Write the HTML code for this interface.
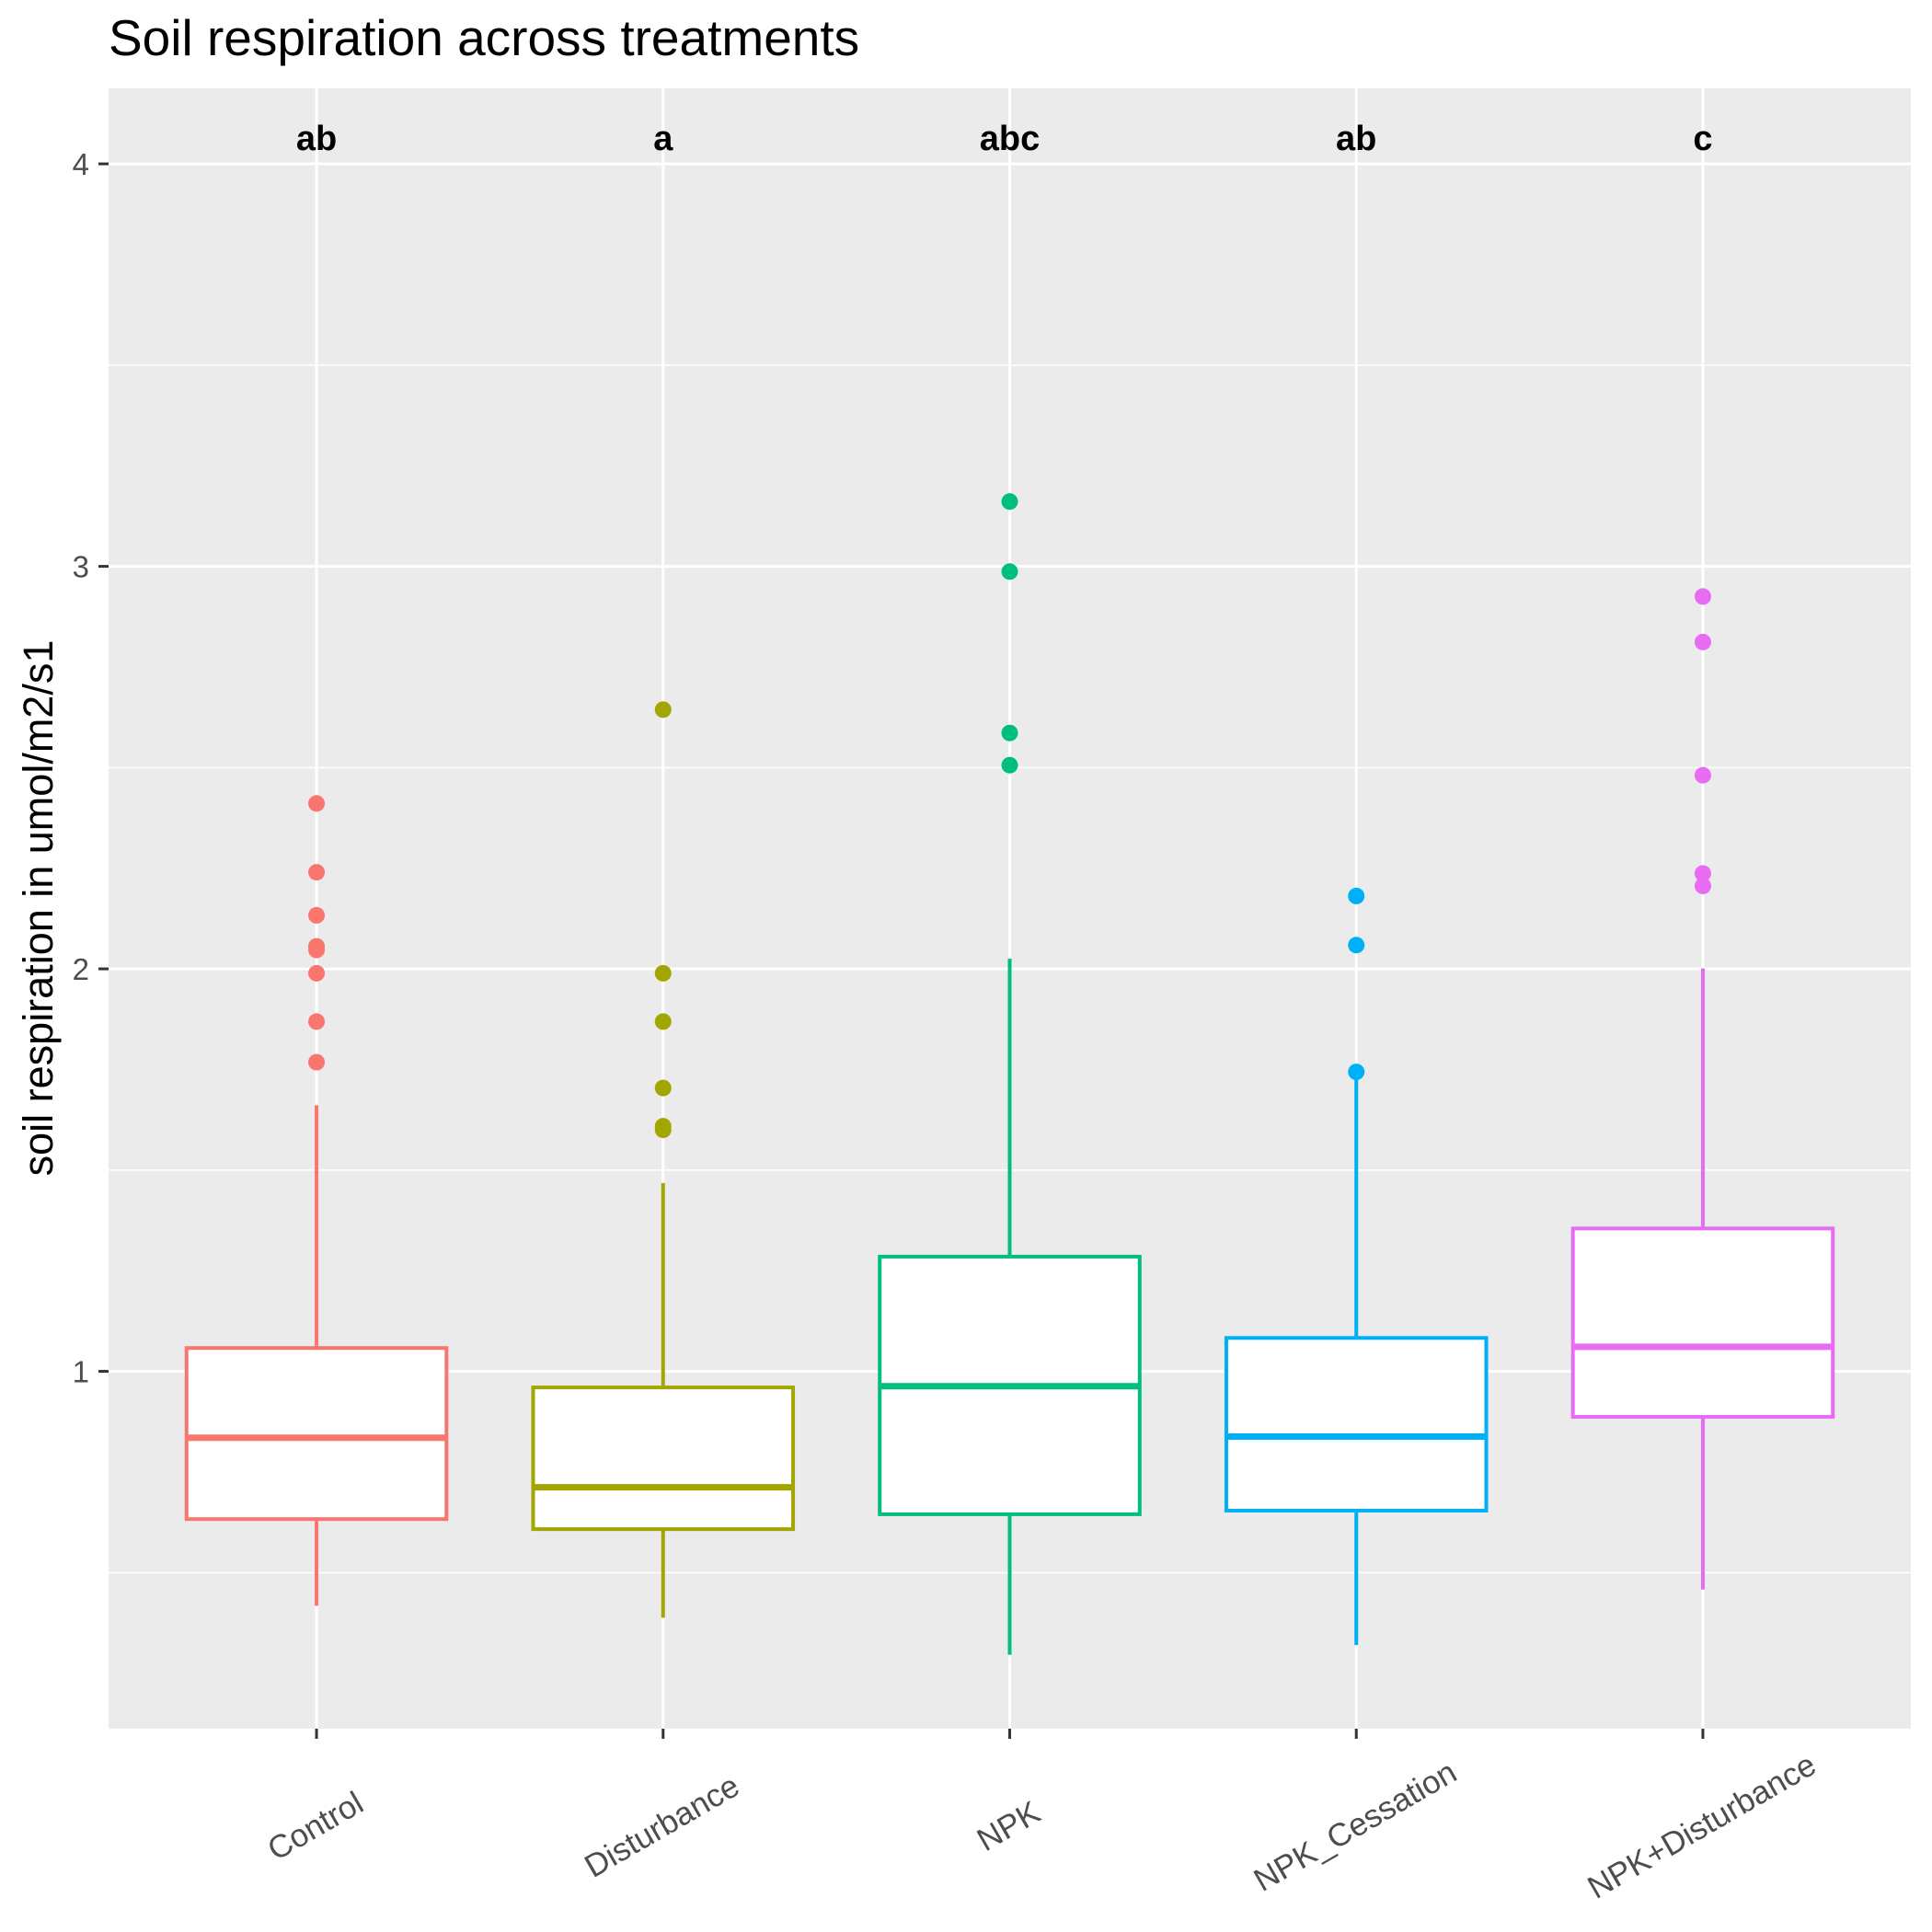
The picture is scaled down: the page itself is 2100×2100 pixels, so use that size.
<!DOCTYPE html>
<html><head><meta charset="utf-8"><style>
html,body{margin:0;padding:0;background:#fff;}
svg{display:block;font-family:"Liberation Sans",Arial,sans-serif;}
</style></head><body>
<svg id="chart" width="2100" height="2100" viewBox="0 0 2100 2100">
<rect x="0" y="0" width="2100" height="2100" fill="#fff"/>
<text x="118" y="60" font-size="55" fill="#000">Soil respiration across treatments</text>
<rect x="118" y="96" width="1959" height="1783" fill="#EBEBEB"/>
<g id="grid"></g>
<g id="marks"></g>
<g id="axes"></g>
<text transform="translate(57,987) rotate(-90)" text-anchor="middle" font-size="45" fill="#000">soil respiration in umol/m2/s1</text>
</svg>
<script>
const categories = ["Control","Disturbance","NPK","NPK_Cessation","NPK+Disturbance"];
const letters = ["ab","a","abc","ab","c"];
const whiskerLow = [0.418,0.388,0.296,0.320,0.458];
const q1 = [0.633,0.608,0.645,0.654,0.887];
const medians = [0.835,0.712,0.963,0.838,1.061];
const q3 = [1.058,0.960,1.285,1.083,1.355];
const whiskerHigh = [1.661,1.468,2.025,1.738,2.001];
const outliers = [
  [2.411,2.240,2.133,2.056,2.047,1.989,1.869,1.768],
  [2.644,1.989,1.869,1.704,1.609,1.600],
  [3.161,2.987,2.586,2.506],
  [2.181,2.059,1.744],
  [2.925,2.812,2.481,2.237,2.206]
];
const yTicks = [1,2,3,4];
const yMinor = [0.5,1.5,2.5,3.5];
const colors = ["#F8766D","#A3A500","#00BF7D","#00B0F6","#E76BF3"];

const NS="http://www.w3.org/2000/svg";
const L=118,R=2077,T=96,B=1879;
const step=(R-L)/(categories.length-1+1.2);
function xPos(i){return L+step*(0.6+i);}
function yPos(v){return 1490.6-(v-1)*437.5;}
function mk(tag,attrs,parent){const e=document.createElementNS(NS,tag);for(const k in attrs)e.setAttribute(k,attrs[k]);parent.appendChild(e);return e;}
const grid=document.getElementById('grid'),marks=document.getElementById('marks'),axes=document.getElementById('axes');
yMinor.forEach(v=>{const e=mk('line',{x1:L,x2:R,y1:yPos(v),y2:yPos(v),stroke:'#fff','stroke-width':1.5},grid);

});
yTicks.forEach(v=>{const e=mk('line',{x1:L,x2:R,y1:yPos(v),y2:yPos(v),stroke:'#fff','stroke-width':3},grid);


const t=mk('line',{x1:107,x2:118,y1:yPos(v),y2:yPos(v),stroke:'#333','stroke-width':3},axes);


const l=mk('text',{x:97,y:yPos(v)+12,'text-anchor':'end','font-size':33,fill:'#4D4D4D'},axes);l.textContent=v;

});
categories.forEach((c,i)=>{const x=xPos(i);
const g=mk('line',{x1:x,x2:x,y1:T,y2:B,stroke:'#fff','stroke-width':3},grid);


const grp=mk('g',{},marks);


const col=colors[i],hw=step*0.375;
mk('line',{x1:x,x2:x,y1:yPos(q3[i]),y2:yPos(whiskerHigh[i]),stroke:col,'stroke-width':4},grp);
mk('line',{x1:x,x2:x,y1:yPos(q1[i]),y2:yPos(whiskerLow[i]),stroke:col,'stroke-width':4},grp);
mk('rect',{x:x-hw,y:yPos(q3[i]),width:2*hw,height:yPos(q1[i])-yPos(q3[i]),fill:'#fff',stroke:col,'stroke-width':4},grp);
mk('line',{x1:x-hw,x2:x+hw,y1:yPos(medians[i]),y2:yPos(medians[i]),stroke:col,'stroke-width':7},grp);
outliers[i].forEach(v=>{const d=mk('circle',{cx:x,cy:yPos(v),r:9,fill:col},grp);

});
const lt=mk('text',{x:x,y:163,'text-anchor':'middle','font-size':38,'font-weight':'bold',fill:'#000'},marks);lt.textContent=letters[i];


const tk=mk('line',{x1:x,x2:x,y1:B,y2:B+11,stroke:'#333','stroke-width':3},axes);


const xl=mk('text',{transform:`translate(${x},1987) rotate(-30)`,'text-anchor':'middle','dominant-baseline':'middle','font-size':35,fill:'#4D4D4D'},axes);xl.textContent=c;

});
</script>
</body></html>
